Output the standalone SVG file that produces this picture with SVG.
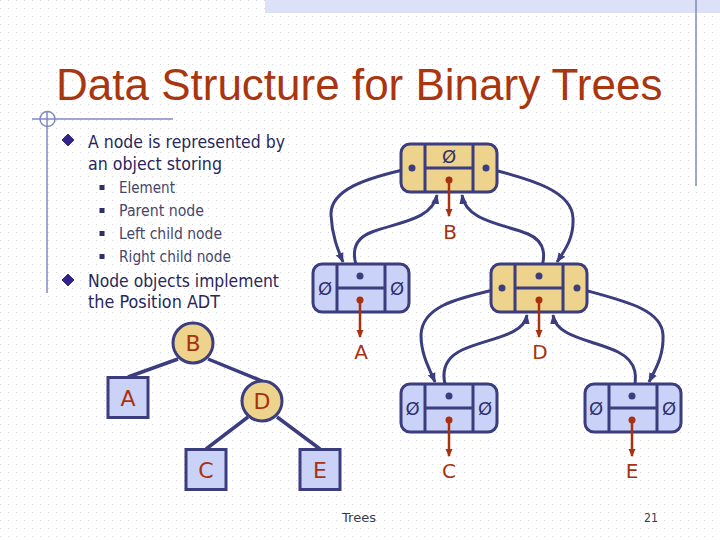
<svg xmlns="http://www.w3.org/2000/svg" width="720" height="540" viewBox="0 0 720 540">
<defs>
<pattern id="grid" x="0" y="0" width="8" height="8" patternUnits="userSpaceOnUse">
<rect x="0" y="0" width="1" height="1" fill="#d4d4dc"/>
</pattern>
<marker id="ab" markerWidth="10" markerHeight="10" refX="9" refY="5" orient="auto" markerUnits="userSpaceOnUse">
<path d="M0,1 L10,5 L0,9 z" fill="#3B3D7E"/>
</marker>
<marker id="ar" markerWidth="8" markerHeight="8" refX="7" refY="4" orient="auto" markerUnits="userSpaceOnUse">
<path d="M0,0.5 L8,4 L0,7.5 z" fill="#A8320F"/>
</marker>
</defs>
<style>
.t{font-family:"DejaVu Sans","Liberation Sans",sans-serif;}
.title{font-family:"Liberation Sans","DejaVu Sans",sans-serif;font-size:44px;fill:#A9360F;}
.main{font-size:17.5px;fill:#27275C;}
.sub{font-size:15px;fill:#46466A;}
.foot{font-size:13px;fill:#3A3A55;}
.lbl{font-size:20px;fill:#A8320F;text-anchor:middle;}
.big{font-size:22px;}
.nul{font-size:18px;fill:#2E3070;text-anchor:middle;}
.box{stroke:#3B3D7E;stroke-width:3;}
.yel{fill:#EDD38B;}
.blu{fill:#CAD3F7;}
.div{stroke:#3B3D7E;stroke-width:3;fill:none;}
.dot{fill:#3B3D7E;}
.rdot{fill:#A8320F;}
.rarr{stroke:#A8320F;stroke-width:2.5;fill:none;marker-end:url(#ar);}
.con{stroke:#3B3D7E;stroke-width:3;fill:none;marker-end:url(#ab);}
.edge{stroke:#3B3D7E;stroke-width:3.5;}
.deco{stroke:#8088C0;stroke-width:1.5;fill:none;}
.bul{fill:#34208F;stroke:#1E1E5A;stroke-width:0.8;}
.sq{fill:#2E2E6A;}
</style>
<rect x="0" y="0" width="720" height="540" fill="#ffffff"/>
<rect x="0" y="0" width="720" height="540" fill="url(#grid)"/>
<rect x="265" y="0" width="455" height="13" fill="#DCE1F7"/>
<line class="deco" x1="696" y1="0" x2="696" y2="186"/>
<line class="deco" x1="32" y1="119" x2="173" y2="119"/>
<line class="deco" x1="47" y1="111" x2="47" y2="293"/>
<circle class="deco" cx="47.5" cy="119" r="7.5"/>

<text class="title" x="56" y="100">Data Structure for Binary Trees</text>

<g id="bullets">
<polygon class="bul" points="68,134 74,140 68,146 62,140"/>
<text class="t main" x="88" y="148" textLength="197" lengthAdjust="spacingAndGlyphs">A node is represented by</text>
<text class="t main" x="88" y="169.5" textLength="134" lengthAdjust="spacingAndGlyphs">an object storing</text>
<rect class="sq" x="99.5" y="185" width="5" height="5"/>
<text class="t sub" x="119" y="192.5" textLength="56" lengthAdjust="spacingAndGlyphs">Element</text>
<rect class="sq" x="99.5" y="208" width="5" height="5"/>
<text class="t sub" x="119" y="215.5" textLength="85" lengthAdjust="spacingAndGlyphs">Parent node</text>
<rect class="sq" x="99.5" y="231" width="5" height="5"/>
<text class="t sub" x="119" y="238.5" textLength="103" lengthAdjust="spacingAndGlyphs">Left child node</text>
<rect class="sq" x="99.5" y="254" width="5" height="5"/>
<text class="t sub" x="119" y="261.5" textLength="112" lengthAdjust="spacingAndGlyphs">Right child node</text>
<polygon class="bul" points="68,274 74,280 68,286 62,280"/>
<text class="t main" x="88" y="286.5" textLength="191" lengthAdjust="spacingAndGlyphs">Node objects implement</text>
<text class="t main" x="88" y="308" textLength="132" lengthAdjust="spacingAndGlyphs">the Position ADT</text>
</g>

<g id="tree-edges">
<line class="edge" x1="178" y1="359" x2="128" y2="377"/>
<line class="edge" x1="208" y1="359" x2="262" y2="381"/>
<line class="edge" x1="248" y1="417" x2="206" y2="449"/>
<line class="edge" x1="277" y1="417" x2="320" y2="449"/>
</g>
<g id="tree-B"><circle class="box yel" cx="193" cy="343" r="20"/><text class="t lbl big" x="193" y="351">B</text></g>
<g id="tree-A"><rect class="box blu" x="108" y="377.5" width="40" height="40"/><text class="t lbl big" x="128" y="405.5">A</text></g>
<g id="tree-D"><circle class="box yel" cx="262" cy="401" r="20"/><text class="t lbl big" x="262" y="409">D</text></g>
<g id="tree-C"><rect class="box blu" x="186" y="449.5" width="40" height="40"/><text class="t lbl big" x="206" y="477.5">C</text></g>
<g id="tree-E"><rect class="box blu" x="300" y="449.5" width="40" height="40"/><text class="t lbl big" x="320" y="477.5">E</text></g>

<g id="connectors">
<path class="con" d="M412,168 C365,178 330,190 331,215 C332,236 338,250 343,262"/>
<path class="con" d="M360,276 C352,258 350,240 372,232 C398,222 432,220 437,195"/>
<path class="con" d="M486,168 C535,180 572,192 573,218 C574,238 565,250 557,262"/>
<path class="con" d="M539,276 C546,258 547,242 528,234 C505,224 466,222 462,195"/>
<path class="con" d="M502,288 C460,298 422,305 421,335 C421,355 430,370 435,382"/>
<path class="con" d="M449,396 C441,378 441,360 462,350 C488,338 524,336 527,315"/>
<path class="con" d="M577,288 C620,300 662,308 663,335 C664,356 655,370 649,382"/>
<path class="con" d="M632,396 C638,378 638,362 618,352 C594,340 556,338 553,315"/>
</g>

<g id="node-B">
<rect class="box yel" x="401" y="144" width="96" height="48" rx="9"/>
<path class="div" d="M425,144 V192 M473,144 V192 M425,168 H473"/>
<text class="t nul" x="449" y="162.5">Ø</text>
<circle class="dot" cx="412" cy="168" r="3.5"/>
<circle class="dot" cx="486" cy="168" r="3.5"/>
<circle class="rdot" cx="449" cy="180" r="3.5"/>
<path class="rarr" d="M449,180 V216"/>
<text class="t lbl" x="450" y="239">B</text>
</g>

<g id="node-A">
<rect class="box blu" x="313" y="264" width="96" height="48" rx="9"/>
<path class="div" d="M337,264 V312 M385,264 V312 M337,288 H385"/>
<text class="t nul" x="325" y="294.5">Ø</text>
<text class="t nul" x="397" y="294.5">Ø</text>
<circle class="dot" cx="360" cy="276" r="3.5"/>
<circle class="rdot" cx="360" cy="300" r="3.5"/>
<path class="rarr" d="M360,300 V337"/>
<text class="t lbl" x="361" y="359">A</text>
</g>

<g id="node-D">
<rect class="box yel" x="491" y="264" width="96" height="48" rx="9"/>
<path class="div" d="M515,264 V312 M563,264 V312 M515,288 H563"/>
<circle class="dot" cx="539" cy="276" r="3.5"/>
<circle class="dot" cx="502" cy="288" r="3.5"/>
<circle class="dot" cx="577" cy="288" r="3.5"/>
<circle class="rdot" cx="539" cy="300" r="3.5"/>
<path class="rarr" d="M539,300 V337"/>
<text class="t lbl" x="540" y="359">D</text>
</g>

<g id="node-C">
<rect class="box blu" x="401" y="384" width="96" height="48" rx="9"/>
<path class="div" d="M425,384 V432 M473,384 V432 M425,408 H473"/>
<text class="t nul" x="412.5" y="414.5">Ø</text>
<text class="t nul" x="485" y="414.5">Ø</text>
<circle class="dot" cx="449" cy="396" r="3.5"/>
<circle class="rdot" cx="449" cy="420" r="3.5"/>
<path class="rarr" d="M449,420 V456"/>
<text class="t lbl" x="449" y="478">C</text>
</g>

<g id="node-E">
<rect class="box blu" x="585" y="384" width="96" height="48" rx="9"/>
<path class="div" d="M609,384 V432 M657,384 V432 M609,408 H657"/>
<text class="t nul" x="596" y="414.5">Ø</text>
<text class="t nul" x="669" y="414.5">Ø</text>
<circle class="dot" cx="632" cy="396" r="3.5"/>
<circle class="rdot" cx="632" cy="420" r="3.5"/>
<path class="rarr" d="M632,420 V456"/>
<text class="t lbl" x="632" y="478">E</text>
</g>

<text class="t foot" x="342" y="522" textLength="34" lengthAdjust="spacingAndGlyphs">Trees</text>
<text class="t foot" x="644" y="522" textLength="14" lengthAdjust="spacingAndGlyphs">21</text>
</svg>
